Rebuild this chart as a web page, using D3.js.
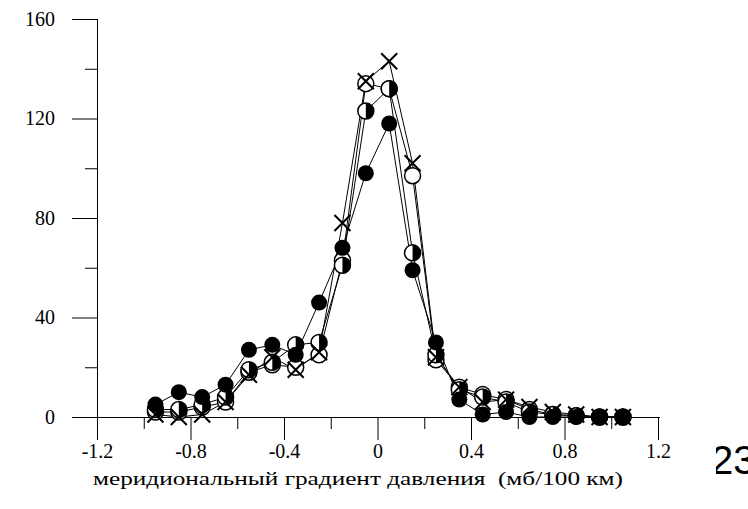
<!DOCTYPE html>
<html>
<head>
<meta charset="utf-8">
<script src="https://cdn.jsdelivr.net/npm/d3@7"></script>
<style>
  body { margin: 0; background: #ffffff; }
  svg { display: block; }
</style>
</head>
<body>
<script>
// gradient bins (centres), mb/100 km
var xs = [-0.95, -0.85, -0.75, -0.65, -0.55, -0.45, -0.35, -0.25, -0.15, -0.05,
           0.05,  0.15,  0.25,  0.35,  0.45,  0.55,  0.65,  0.75,  0.85,  0.95, 1.05];

// ---- series ----
var filled = [5, 10, 8, 13, 27, 29, 25, 46, 68, 98, 118, 59, 30, 7, 1, 2, 0, 0, 0, 0, 0];
var half   = [3, 3, 5, 8, 19, 22, 29, 30, 61, 123, 132, 66, 25, 11, 8, 6, 2, 1, 0.5, 0, 0];
var open   = [2, 2, 4, 6, 18, 21, 20, 25, 63, 134, 132, 97, 23, 12, 9, 7, 3, 1, 0.5, 0, 0];
var cross  = [1, 0, 1, 6, 17, 24, 19, 26, 78, 135, 143, 102, 24, 12, 6, 7, 4, 2, 1, 0, 0];

var xTicks = [-1.2, -0.8, -0.4, 0, 0.4, 0.8, 1.2];
var xMinor = [-1.0, -0.6, -0.2, 0.2, 0.6, 1.0];
var yTicks = [0, 40, 80, 120, 160];
var yMinor = [20, 60, 100, 140];

var W = 748, H = 509;
var serif = '"Liberation Serif", "Times New Roman", serif';
var svg = d3.select("body").append("svg").attr("width", W).attr("height", H);

var x = d3.scaleLinear().domain([-1.2, 1.2]).range([97, 658]);
var y = d3.scaleLinear().domain([0, 160]).range([417, 19]);

// ------------------ axes ---------------------------
var xAxis = svg.append("g").attr("transform", "translate(0,417)")
    .call(d3.axisBottom(x).tickValues(xTicks).tickSize(23).tickPadding(4)
        .tickFormat(d => d === 0 ? "0" : d.toFixed(1)));
xAxis.select(".domain").attr("d", "M97,0.5H660");

var xMin = svg.append("g").attr("transform", "translate(0,417)")
    .call(d3.axisBottom(x).tickValues(xMinor).tickSize(12).tickFormat(""));
xMin.select(".domain").remove();
xMin.selectAll("text").remove();

var yAxis = svg.append("g").attr("transform", "translate(97,0)")
    .call(d3.axisLeft(y).tickValues(yTicks).tickSize(25).tickPadding(17)
        .tickFormat(d => String(d)));
yAxis.select(".domain").attr("d", "M0.5,19V440");

var yMin = svg.append("g").attr("transform", "translate(97,0)")
    .call(d3.axisLeft(y).tickValues(yMinor).tickSize(12).tickFormat(""));
yMin.select(".domain").remove();
yMin.selectAll("text").remove();

svg.selectAll(".tick text").style("font-family", serif).style("font-size", "20px").attr("fill", "#000");
svg.selectAll(".tick line, .domain").attr("stroke", "#000");

// axis title
svg.append("text")
    .attr("x", 358).attr("y", 485).attr("text-anchor", "middle")
    .style("font-family", serif).style("font-size", "19px").style("white-space", "pre")
    .attr("textLength", 530).attr("lengthAdjust", "spacingAndGlyphs")
    .text("меридиональный градиент давления  (мб/100 км)");

// ------------------ lines ---------------------------
var series = [
  {name: "cross",  vals: cross},
  {name: "open",   vals: open},
  {name: "half",   vals: half},
  {name: "filled", vals: filled}
];
var line = d3.line().x((d, i) => x(xs[i])).y(d => y(d));

svg.selectAll(".ser").data(series).enter().append("path")
    .attr("d", s => line(s.vals))
    .attr("fill", "none").attr("stroke", "#000").attr("stroke-width", 1);

// ------------------ markers ---------------------------
var R = 8;
function pts(vals) { return vals.map((v, i) => ({x: xs[i], y: v})); }

// open circles
svg.selectAll(".open").data(pts(open)).enter().append("circle")
    .attr("cx", d => x(d.x)).attr("cy", d => y(d.y)).attr("r", R)
    .attr("fill", "#fff").attr("stroke", "#000").attr("stroke-width", 1.5);

// half filled circles (right half black)
var hg = svg.selectAll(".half").data(pts(half)).enter().append("g")
    .attr("transform", d => `translate(${x(d.x)},${y(d.y)})`);
hg.append("circle").attr("r", R).attr("fill", "#fff").attr("stroke", "#000").attr("stroke-width", 1.5);
hg.append("path").attr("d", `M0,${-R}A${R},${R} 0 0 1 0,${R}Z`).attr("fill", "#000");

// filled circles
svg.selectAll(".filled").data(pts(filled)).enter().append("circle")
    .attr("cx", d => x(d.x)).attr("cy", d => y(d.y)).attr("r", R)
    .attr("fill", "#000");

// crosses
var c = 8;
svg.selectAll(".cross").data(pts(cross)).enter().append("path")
    .attr("transform", d => `translate(${x(d.x)},${y(d.y)})`)
    .attr("d", `M${-c},${-c}L${c},${c}M${-c},${c}L${c},${-c}`)
    .attr("stroke", "#000").attr("stroke-width", 2);

// slide number at right edge
svg.append("text").attr("x", 711).attr("y", 474)
    .style("font-family", '"Liberation Sans", Arial, sans-serif').style("font-size", "40px")
    .text("23");
svg.append("rect").attr("x", 700).attr("y", 430).attr("width", 16).attr("height", 50).attr("fill", "#fff");
</script>
</body>
</html>
